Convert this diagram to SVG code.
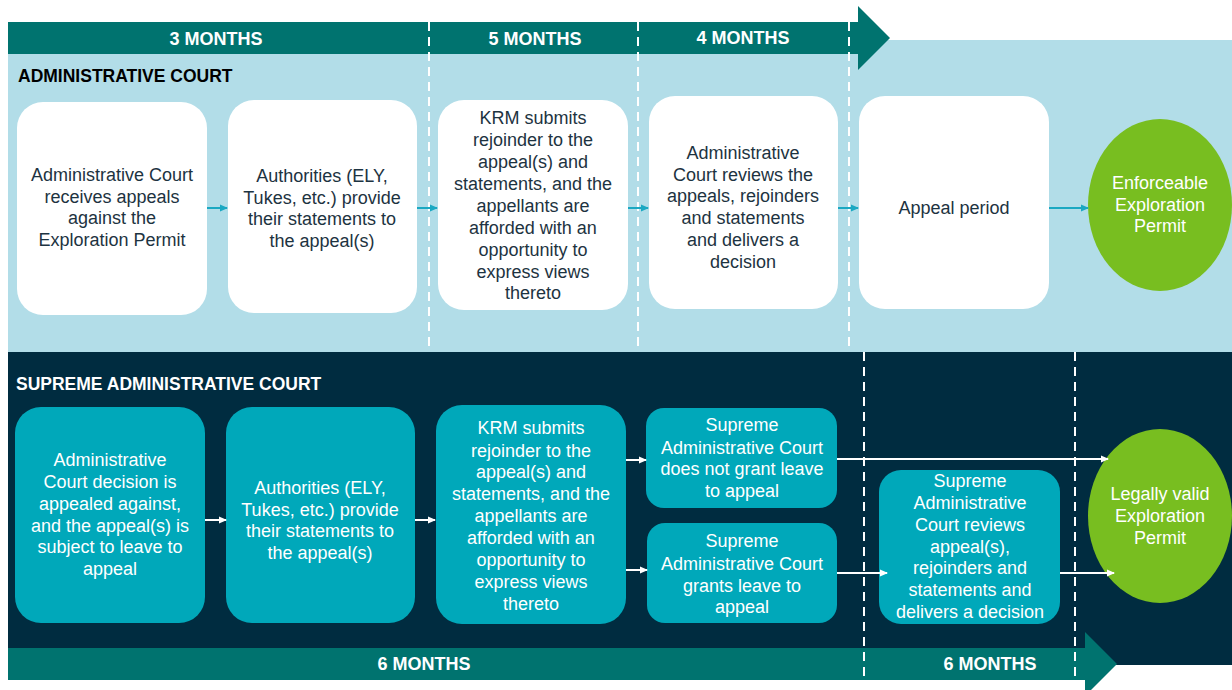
<svg xmlns="http://www.w3.org/2000/svg" width="1232" height="690" viewBox="0 0 1232 690">
<defs>
<marker id="ah-teal" markerWidth="8" markerHeight="8" refX="7" refY="4" orient="auto" markerUnits="userSpaceOnUse"><path d="M0,0.5 L8,4 L0,7.5 z" fill="#1AA8C2"/></marker>
<marker id="ah-white" markerWidth="8" markerHeight="8" refX="7" refY="4" orient="auto" markerUnits="userSpaceOnUse"><path d="M0,0.5 L8,4 L0,7.5 z" fill="#ffffff"/></marker>
<style>
.t{font-family:"Liberation Sans",Arial,sans-serif;font-size:18px;text-anchor:middle}
.dk{fill:#1D3341}
.wt{fill:#ffffff}
.hd{font-family:"Liberation Sans",Arial,sans-serif;font-weight:bold;font-size:17.5px}
.mo{font-family:"Liberation Sans",Arial,sans-serif;font-weight:bold;font-size:18px;fill:#ffffff;text-anchor:middle}
.wbox{fill:#ffffff}
.tbox{fill:#00A8BA}
.ell{fill:#78BE20}
.dash{stroke:#ffffff;stroke-width:2;stroke-dasharray:9 6;fill:none}
.ct{stroke:#1AA8C2;stroke-width:2;fill:none;marker-end:url(#ah-teal)}
.cw{stroke:#ffffff;stroke-width:2;fill:none;marker-end:url(#ah-white)}
</style>
</defs>
<rect width="1232" height="690" fill="#ffffff"/>
<!-- panels -->
<rect x="8" y="40" width="1224" height="312" fill="#B2DDE8"/>
<rect x="8" y="352" width="1224" height="313" fill="#002C40"/>
<!-- top bar -->
<path d="M8,22 H858 V6 L890,38 L858,70 V54 H8 z" fill="#00736F"/>
<!-- bottom bar -->
<path d="M8,648 H1085 V632 L1117,664 L1085,696 V680 H8 z" fill="#00736F"/>
<rect x="0" y="680" width="1085" height="10" fill="#ffffff"/>
<!-- dashed lines -->
<g id="dividers">
<line class="dash" x1="429" y1="22" x2="429" y2="352"/>
<line class="dash" x1="638" y1="22" x2="638" y2="352"/>
<line class="dash" x1="849" y1="22" x2="849" y2="352"/>
<line class="dash" x1="864" y1="352" x2="864" y2="680"/>
<line class="dash" x1="1075" y1="352" x2="1075" y2="680"/>
</g>
<text class="mo" x="216" y="45">3 MONTHS</text>
<text class="mo" x="535" y="45">5 MONTHS</text>
<text class="mo" x="743" y="44">4 MONTHS</text>
<text class="mo" x="424" y="670">6 MONTHS</text>
<text class="mo" x="990" y="670">6 MONTHS</text>
<text class="hd" x="18" y="82" fill="#000000">ADMINISTRATIVE COURT</text>
<text class="hd" x="16" y="390" fill="#ffffff">SUPREME ADMINISTRATIVE COURT</text>

<!-- top nodes -->
<g id="a1"><rect class="wbox" x="17" y="102" width="190" height="213" rx="26"/>
<text class="t dk"><tspan x="112" y="181">Administrative Court</tspan><tspan x="112" y="203">receives appeals</tspan><tspan x="112" y="224">against the</tspan><tspan x="112" y="246">Exploration Permit</tspan></text></g>
<g id="a2"><rect class="wbox" x="228" y="100" width="189" height="213" rx="26"/>
<text class="t dk"><tspan x="322" y="182">Authorities (ELY,</tspan><tspan x="322" y="204">Tukes, etc.) provide</tspan><tspan x="322" y="225">their statements to</tspan><tspan x="322" y="247">the appeal(s)</tspan></text></g>
<g id="a3"><rect class="wbox" x="438" y="100" width="190" height="210" rx="26"/>
<text class="t dk"><tspan x="533" y="124">KRM submits</tspan><tspan x="533" y="146">rejoinder to the</tspan><tspan x="533" y="168">appeal(s) and</tspan><tspan x="533" y="190">statements, and the</tspan><tspan x="533" y="212">appellants are</tspan><tspan x="533" y="234">afforded with an</tspan><tspan x="533" y="256">opportunity to</tspan><tspan x="533" y="278">express views</tspan><tspan x="533" y="299">thereto</tspan></text></g>
<g id="a4"><rect class="wbox" x="649" y="96" width="189" height="213" rx="26"/>
<text class="t dk"><tspan x="743" y="159">Administrative</tspan><tspan x="743" y="181">Court reviews the</tspan><tspan x="743" y="202">appeals, rejoinders</tspan><tspan x="743" y="224">and statements</tspan><tspan x="743" y="246">and delivers a</tspan><tspan x="743" y="268">decision</tspan></text></g>
<g id="a5"><rect class="wbox" x="859" y="96" width="190" height="213" rx="26"/>
<text class="t dk"><tspan x="954" y="214">Appeal period</tspan></text></g>
<g id="a6"><ellipse class="ell" cx="1160" cy="205" rx="72" ry="86"/>
<text class="t wt"><tspan x="1160" y="189">Enforceable</tspan><tspan x="1160" y="211">Exploration</tspan><tspan x="1160" y="232">Permit</tspan></text></g>

<!-- bottom nodes -->
<g id="s1"><rect class="tbox" x="15" y="407" width="190" height="216" rx="26"/>
<text class="t wt"><tspan x="110" y="466">Administrative</tspan><tspan x="110" y="488">Court decision is</tspan><tspan x="110" y="510">appealed against,</tspan><tspan x="110" y="532">and the appeal(s) is</tspan><tspan x="110" y="553">subject to leave to</tspan><tspan x="110" y="575">appeal</tspan></text></g>
<g id="s2"><rect class="tbox" x="226" y="407" width="189" height="216" rx="26"/>
<text class="t wt"><tspan x="320" y="494">Authorities (ELY,</tspan><tspan x="320" y="516">Tukes, etc.) provide</tspan><tspan x="320" y="537">their statements to</tspan><tspan x="320" y="559">the appeal(s)</tspan></text></g>
<g id="s3"><rect class="tbox" x="436" y="405" width="190" height="219" rx="26"/>
<text class="t wt"><tspan x="531" y="434">KRM submits</tspan><tspan x="531" y="457">rejoinder to the</tspan><tspan x="531" y="478">appeal(s) and</tspan><tspan x="531" y="500">statements, and the</tspan><tspan x="531" y="522">appellants are</tspan><tspan x="531" y="544">afforded with an</tspan><tspan x="531" y="566">opportunity to</tspan><tspan x="531" y="588">express views</tspan><tspan x="531" y="610">thereto</tspan></text></g>
<g id="s4"><rect class="tbox" x="646" y="408" width="191" height="100" rx="18"/>
<text class="t wt"><tspan x="742" y="431">Supreme</tspan><tspan x="742" y="454">Administrative Court</tspan><tspan x="742" y="475">does not grant leave</tspan><tspan x="742" y="497">to appeal</tspan></text></g>
<g id="s5"><rect class="tbox" x="647" y="523" width="190" height="100" rx="18"/>
<text class="t wt"><tspan x="742" y="547">Supreme</tspan><tspan x="742" y="570">Administrative Court</tspan><tspan x="742" y="592">grants leave to</tspan><tspan x="742" y="613">appeal</tspan></text></g>
<g id="s6"><rect class="tbox" x="879" y="470" width="181" height="154" rx="22"/>
<text class="t wt"><tspan x="970" y="487">Supreme</tspan><tspan x="970" y="509">Administrative</tspan><tspan x="970" y="531">Court reviews</tspan><tspan x="970" y="553">appeal(s),</tspan><tspan x="970" y="574">rejoinders and</tspan><tspan x="970" y="596">statements and</tspan><tspan x="970" y="618">delivers a decision</tspan></text></g>
<g id="s7"><ellipse class="ell" cx="1160" cy="516" rx="72" ry="87"/>
<text class="t wt"><tspan x="1160" y="500">Legally valid</tspan><tspan x="1160" y="522">Exploration</tspan><tspan x="1160" y="544">Permit</tspan></text></g>

<!-- connectors -->
<g id="connectors">
<line class="ct" x1="207" y1="208" x2="227" y2="208"/>
<line class="ct" x1="417" y1="208" x2="437" y2="208"/>
<line class="ct" x1="628" y1="208" x2="648" y2="208"/>
<line class="ct" x1="838" y1="208" x2="858" y2="208"/>
<line class="ct" x1="1049" y1="208" x2="1088" y2="208"/>
<line class="cw" x1="205" y1="520" x2="226" y2="520"/>
<line class="cw" x1="415" y1="520" x2="435" y2="520"/>
<line class="cw" x1="626" y1="460" x2="646" y2="460"/>
<line class="cw" x1="626" y1="570" x2="647" y2="570"/>
<line class="cw" x1="837" y1="459" x2="1108" y2="459"/>
<line class="cw" x1="837" y1="573" x2="887" y2="573"/>
<line class="cw" x1="1060" y1="573" x2="1114" y2="573"/>
</g>
</svg>
